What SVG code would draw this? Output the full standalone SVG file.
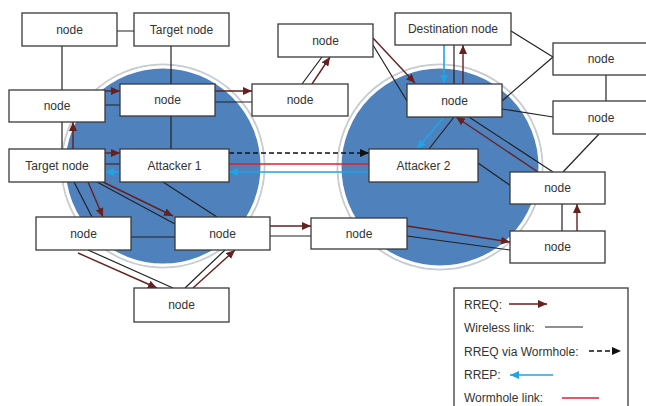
<svg xmlns="http://www.w3.org/2000/svg" width="646" height="406" viewBox="0 0 646 406">
<defs>
<marker id="ab" markerUnits="userSpaceOnUse" markerWidth="9" markerHeight="8" refX="9" refY="4" orient="auto"><path d="M0,0 L9,4 L0,8 z" fill="#66201f"/></marker>
<marker id="al" markerUnits="userSpaceOnUse" markerWidth="9" markerHeight="8" refX="9" refY="4" orient="auto"><path d="M0,0 L9,4 L0,8 z" fill="#1ea5e6"/></marker>
<marker id="ak" markerUnits="userSpaceOnUse" markerWidth="9" markerHeight="8" refX="9" refY="4" orient="auto"><path d="M0,0 L9,4 L0,8 z" fill="#111"/></marker>
</defs>
<style>
.n rect{fill:#fff;stroke:#3a3a3a;stroke-width:1.3}
.n text,.lg text{font-family:"Liberation Sans",Arial,sans-serif;font-size:12px;fill:#333;text-anchor:middle}
.lg text{text-anchor:start}
.w{stroke:#222;stroke-width:1.2;fill:none}
.q{stroke:#66201f;stroke-width:1.4;fill:none;marker-end:url(#ab)}
.p{stroke:#1ea5e6;stroke-width:1.6;fill:none;marker-end:url(#al)}
.d{stroke:#111;stroke-width:1.6;stroke-dasharray:5,3;fill:none;marker-end:url(#ak)}
.r{stroke:#e0202a;stroke-width:1.4;fill:none}
.c{fill:#4f81bd;stroke:#fff;stroke-width:3}
.cs{fill:none;stroke:#c8cdd4;stroke-width:2}
</style>
<rect width="646" height="406" fill="#fff"/>
<g id="circles">
<circle class="cs" cx="163" cy="166" r="101.5"/>
<circle class="c" cx="163" cy="166" r="99"/>
<circle class="cs" cx="440" cy="167" r="102.5"/>
<circle class="c" cx="440" cy="167" r="100"/>
</g>
<g id="connectors">
<path class="w" d="M117,31 H134 M62,46 V90 M171,46 V84 M62,122 V149 M105,105 H120 M215,102 H252 M171,116 V149 M302,84 L322,57 M373,45 L407,101 M454,45 V84 M511,31 L553,57 M502,101 L553,57 M502,109 L553,117 M606,75 V101 M429,149 L454,117 M469,117 L553,172 M599,134 L563,172 M478,163 L511,186 M562,204 V231 M105,164 H120 M74,182 L92,217 M97,182 L175,224 M163,182 L217,217 M131,237 H175 M270,236 H311 M407,236 L510,250 M88,250 L173,288 M185,288 L225,250"/>
<path class="q" d="M105,91 H120"/>
<path class="q" d="M215,91 H252"/>
<path class="q" d="M312,84 L330,57"/>
<path class="q" d="M373,38 L415,83"/>
<path class="q" d="M463,84 V45"/>
<path class="q" d="M538,172 L456,117"/>
<path class="q" d="M577,231 V204"/>
<path class="q" d="M73,149 V122"/>
<path class="q" d="M105,153 H120"/>
<path class="q" d="M88,182 L103,217"/>
<path class="q" d="M103,182 L173,216"/>
<path class="q" d="M78,253 L157,288"/>
<path class="q" d="M193,288 L235,250"/>
<path class="q" d="M270,226 H311"/>
<path class="q" d="M407,226 L510,242"/>
<path class="d" d="M229,153 H369"/>
<path class="r" d="M229,164 H369"/>
<path class="p" d="M369,172 H229"/>
<path class="p" d="M120,172 H105"/>
<path class="p" d="M444,117 L417,149"/>
<path class="p" d="M444,45 V84"/>
</g>
<g id="n1" class="n"><rect x="22" y="13" width="95" height="33"/><text x="69.5" y="34">node</text></g>
<g id="n2" class="n"><rect x="134" y="13" width="95" height="33"/><text x="181.5" y="34">Target node</text></g>
<g id="n3" class="n"><rect x="9" y="90" width="96" height="32"/><text x="57" y="110">node</text></g>
<g id="n4" class="n"><rect x="120" y="84" width="95" height="32"/><text x="167.5" y="104">node</text></g>
<g id="n5" class="n"><rect x="252" y="84" width="96" height="32"/><text x="300" y="104">node</text></g>
<g id="n6" class="n"><rect x="278" y="24" width="95" height="33"/><text x="325.5" y="45">node</text></g>
<g id="n7" class="n"><rect x="395" y="13" width="116" height="32"/><text x="453" y="33">Destination node</text></g>
<g id="n8" class="n"><rect x="553" y="43" width="96" height="32"/><text x="601" y="63">node</text></g>
<g id="n9" class="n"><rect x="407" y="84" width="95" height="33"/><text x="454.5" y="105">node</text></g>
<g id="n10" class="n"><rect x="553" y="101" width="96" height="33"/><text x="601" y="122">node</text></g>
<g id="n11" class="n"><rect x="369" y="149" width="109" height="33"/><text x="423.5" y="170">Attacker 2</text></g>
<g id="n12" class="n"><rect x="510" y="172" width="95" height="32"/><text x="557.5" y="192">node</text></g>
<g id="n13" class="n"><rect x="510" y="231" width="95" height="32"/><text x="557.5" y="251">node</text></g>
<g id="n14" class="n"><rect x="9" y="149" width="96" height="33"/><text x="57" y="170">Target node</text></g>
<g id="n15" class="n"><rect x="120" y="149" width="109" height="33"/><text x="174.5" y="170">Attacker 1</text></g>
<g id="n16" class="n"><rect x="36" y="217" width="95" height="33"/><text x="83.5" y="238">node</text></g>
<g id="n17" class="n"><rect x="175" y="217" width="95" height="33"/><text x="222.5" y="238">node</text></g>
<g id="n18" class="n"><rect x="311" y="218" width="96" height="31"/><text x="359" y="238">node</text></g>
<g id="n19" class="n"><rect x="134" y="288" width="95" height="34"/><text x="181.5" y="309">node</text></g>
<g id="legend" class="lg">
<rect x="454" y="288" width="174" height="130" fill="#fff" stroke="#3a3a3a" stroke-width="1.3"/>
<text x="464" y="309">RREQ:</text>
<path class="q" d="M509,304 H547"/>
<text x="464" y="332">Wireless link:</text>
<path class="w" d="M545,327 H583"/>
<text x="464" y="356">RREQ via Wormhole:</text>
<path class="d" d="M589,351 H621"/>
<text x="464" y="379">RREP:</text>
<path class="p" d="M553,375 H510"/>
<text x="464" y="402">Wormhole link:</text>
<path class="r" d="M562,398 H599"/>
</g>
</svg>
